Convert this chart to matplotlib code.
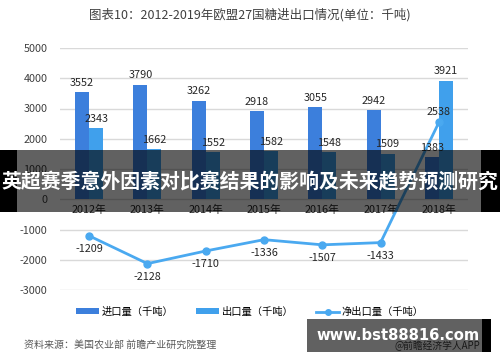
import matplotlib
matplotlib.use("Agg")
import matplotlib.pyplot as plt
from matplotlib.patches import Rectangle, Patch
from matplotlib.lines import Line2D

plt.rcParams['font.family'] = ['Noto Sans CJK SC', 'DejaVu Sans']

years = ['2012年', '2013年', '2014年', '2015年', '2016年', '2017年', '2018年']
imports = [3552, 3790, 3262, 2918, 3055, 2942, 1383]
exports = [2343, 1662, 1552, 1582, 1548, 1509, 3921]
net = [-1209, -2128, -1710, -1336, -1507, -1433, 2538]
yticks = [5000, 4000, 3000, 2000, 1000, 0, -1000, -2000, -3000]
series_names = ['进口量（千吨）', '出口量（千吨）', '净出口量（千吨）']

c_imp = '#3C7FDC'
c_exp = '#40A0EC'
c_net = '#4AA9F0'

fig = plt.figure(figsize=(5, 3.62), dpi=100)
ax = fig.add_axes([60/500, 1-290/362, 408/500, 242/362])

x = list(range(len(years)))
w = 0.24
ax.bar([i - w/2 for i in x], imports, width=w, color=c_imp, zorder=2)
ax.bar([i + w/2 for i in x], exports, width=w, color=c_exp, zorder=2)
ax.plot(x, net, color=c_net, lw=2, marker='o', ms=5, zorder=3)

fs = 7.8
for i in x:
    ax.annotate(str(imports[i]), (i - w/2, imports[i]), xytext=(0, 3), textcoords='offset points',
                ha='center', va='bottom', fontsize=fs, color='#262626', zorder=4)
    ax.annotate(str(exports[i]), (i + w/2, exports[i]), xytext=(0, 3), textcoords='offset points',
                ha='center', va='bottom', fontsize=fs, color='#262626', zorder=4)
    if net[i] < 0:
        ax.annotate(str(net[i]), (i, net[i]), xytext=(0, -6), textcoords='offset points',
                    ha='center', va='top', fontsize=fs, color='#262626', zorder=4)
    else:
        ax.annotate(str(net[i]), (i, net[i]), xytext=(0, 4), textcoords='offset points',
                    ha='center', va='bottom', fontsize=fs, color='#262626', zorder=4)

ax.set_xlim(-0.5, len(years) - 0.5)
ax.set_ylim(-3000, 5000)
ax.set_yticks(yticks)
ax.set_yticklabels([str(t) for t in yticks])
ax.set_xticks(x)
ax.set_xticklabels(years)
ax.spines['bottom'].set_position(('data', 0))
for s in ax.spines.values():
    s.set_visible(False)
ax.tick_params(axis='y', length=0, pad=9, labelsize=7.8, labelcolor='#404040')
ax.tick_params(axis='x', length=0, pad=4, labelsize=7.8, labelcolor='#262626')
ax.yaxis.grid(True, color='#d9d9d9', lw=1, zorder=0)
ax.set_axisbelow(True)

fig.text(0.5, 1-15/362, '图表10：2012-2019年欧盟27国糖进出口情况(单位：千吨)',
         ha='center', va='center', fontsize=9, color='#404040')

handles = [Patch(facecolor=c_imp), Patch(facecolor=c_exp),
           Line2D([0], [0], color=c_net, lw=2, marker='o', ms=4)]
fig.legend(handles, series_names, loc='center', bbox_to_anchor=(0.5, 1-312/362), ncol=3,
           frameon=False, fontsize=7.4, handlelength=2.2, handleheight=0.5,
           columnspacing=2.2, handletextpad=0.3)

fig.text(24/500, 1-345/362, '资料来源：美国农业部 前瞻产业研究院整理', ha='left', va='center',
         fontsize=7.2, color='#595959')
fig.text(480/500, 1-346/362, '@前瞻经济学人APP', ha='right', va='center', fontsize=7, color='#404040')

# overlay banners
fig.patches.append(Rectangle((0, 1-212/362), 1, 62/362, transform=fig.transFigure,
                             facecolor='black', alpha=0.62, zorder=10))
fig.patches.append(Rectangle((0, 1-212/362), 17/500, 62/362, transform=fig.transFigure,
                             facecolor='black', zorder=11))
fig.patches.append(Rectangle((481/500, 1-212/362), 19/500, 62/362, transform=fig.transFigure,
                             facecolor='black', zorder=11))
fig.text(0.5, 1-182/362, '英超赛季意外因素对比赛结果的影响及未来趋势预测研究', ha='center', va='center',
         fontsize=14.3, fontweight='bold', color='white', zorder=12)

fig.patches.append(Rectangle((307/500, 1-352/362), 175/500, 33/362, transform=fig.transFigure,
                             facecolor='black', alpha=0.62, zorder=10))
fig.patches.append(Rectangle((482/500, 1-352/362), 9/500, 33/362, transform=fig.transFigure,
                             facecolor='black', zorder=11))
fig.text(398/500, 1-336/362, 'www.bst88816.com', ha='center', va='center',
         fontsize=10.6, fontweight='bold', color='white', zorder=12, family='DejaVu Sans')

fig.savefig('out.png', dpi=100)
